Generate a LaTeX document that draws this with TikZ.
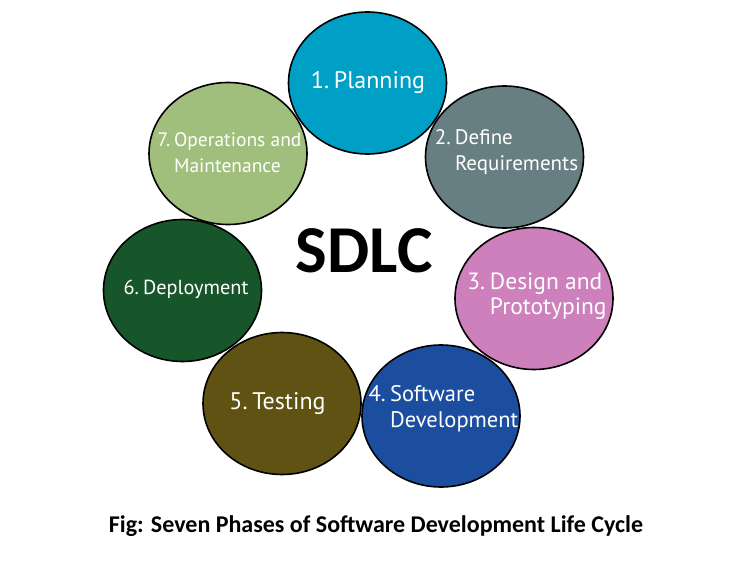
\documentclass[tikz,border=0pt]{standalone}
\usepackage{fontspec}
\setmainfont{PT Sans}
\newfontfamily\capfont{Carlito}
\usetikzlibrary{shapes.geometric}
\definecolor{planblue}{RGB}{0,160,198}
\definecolor{reqgrey}{RGB}{103,126,130}
\definecolor{designpink}{RGB}{205,128,188}
\definecolor{devblue}{RGB}{28,78,160}
\definecolor{testolive}{RGB}{95,82,18}
\definecolor{deploygreen}{RGB}{23,85,42}
\definecolor{opsgreen}{RGB}{160,190,124}
\newcommand{\hang}[3]{\begin{tabular}{@{}r@{\hspace{.2em}}l@{}}#1&#2\\&#3\end{tabular}}
\tikzset{
  phase/.style={ellipse, draw=black, line width=1.6pt, fill=#1,
    minimum width=158pt, minimum height=142pt, inner sep=0pt},
  phasetext/.style={text=white, inner sep=0pt, font=\fontsize{#1}{25.5}\selectfont},
  phasetext/.default=20
}
\begin{document}
\begin{tikzpicture}[x=1pt,y=-1pt]
                      \useasboundingbox (0,0) rectangle (729,564);
                      \node[phase=planblue] (plan) at (367.5,83) {};
                      \node[phase=reqgrey] (req) at (504.5,157) {};
                      \node[phase=designpink] (design) at (534,298.5) {};
                      \node[phase=devblue] (dev) at (441,416) {};
                      \node[phase=testolive] (test) at (282,403.5) {};
                      \node[phase=deploygreen] (deploy) at (182.5,290.5) {};
                      \node[phase=opsgreen] (ops) at (228,153.5) {};
                      \node[phasetext=24] (planT) at (368,83) {1.\hspace{.2em}Planning};
                      \node[phasetext=21] (reqT) at (506.5,152.5) {\hang{2.}{Define}{Requirements}};
                      \node[phasetext=23.5] (designT) at (537,297) {\hang{3.}{Design and}{Prototyping}};
                      \node[phasetext=22.5] (devT) at (443.5,409.5) {\hang{4.}{Software}{Development}};
                      \node[phasetext=24] (testT) at (277.5,404) {5.\hspace{.2em}Testing};
                      \node[phasetext=20.3] (deployT) at (186,289) {6.\hspace{.2em}Deployment};
                      \node[phasetext=19.5] (opsT) at (229.5,154.5) {\hang{7.}{Operations and}{Maintenance}};
                      \node[inner sep=0pt, font=\capfont\bfseries\fontsize{67}{72}\selectfont] (sdlc) at (364,251) {SDLC};
                      \node[inner sep=0pt, font=\capfont\bfseries\fontsize{24}{28}\selectfont] (caption) at (376,526) {Fig: Seven Phases of Software Development Life Cycle};
                  \end{tikzpicture}
\end{document}
